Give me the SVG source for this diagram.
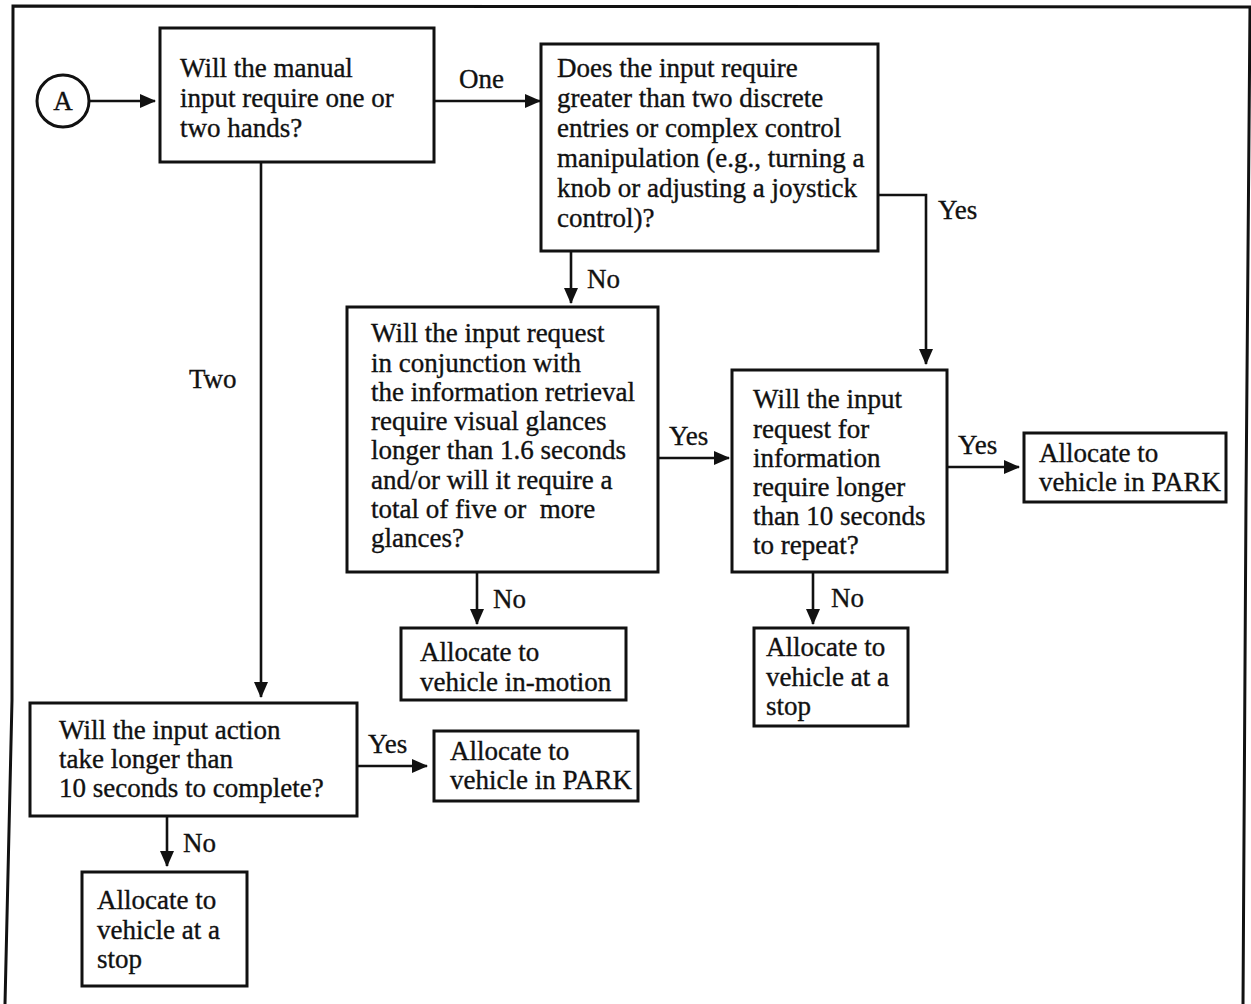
<svg xmlns="http://www.w3.org/2000/svg" width="1251" height="1004" viewBox="0 0 1251 1004">
  <style>
    .box { fill: #fff; stroke: #111; stroke-width: 3; }
    .frame { fill: none; stroke: #111; stroke-width: 3; }
    .conn { fill: none; stroke: #111; stroke-width: 2.6; }
    text { font-family: "Liberation Serif", "Times New Roman", serif; font-size: 27px; fill: #111; stroke: #111; stroke-width: 0.35; }
  </style>
  <defs>
    <marker id="arrow" markerUnits="userSpaceOnUse" markerWidth="16" markerHeight="14" refX="15" refY="7" orient="auto">
      <path d="M0,0 L16,7 L0,14 Z" fill="#111"/>
    </marker>
  </defs>

  <rect width="1251" height="1004" fill="#fff"/>

  <!-- page frame (open at the bottom) -->
  <path class="frame" d="M5,1004 L12,700 L13,6 L1250,7 L1246,500 L1243,1004"/>

  <!-- connectors -->
  <g id="connectors">
    <path class="conn" d="M90,101 H155" marker-end="url(#arrow)"/>
    <path class="conn" d="M434,101 H540" marker-end="url(#arrow)"/>
    <path class="conn" d="M261,162 V697" marker-end="url(#arrow)"/>
    <path class="conn" d="M878,195 H926 V364" marker-end="url(#arrow)"/>
    <path class="conn" d="M571,251 V303" marker-end="url(#arrow)"/>
    <path class="conn" d="M658,458 H729" marker-end="url(#arrow)"/>
    <path class="conn" d="M477,572 V624" marker-end="url(#arrow)"/>
    <path class="conn" d="M948,467 H1019" marker-end="url(#arrow)"/>
    <path class="conn" d="M813,572 V624" marker-end="url(#arrow)"/>
    <path class="conn" d="M357,766 H427" marker-end="url(#arrow)"/>
    <path class="conn" d="M167,816 V866" marker-end="url(#arrow)"/>

    <text x="459" y="88">One</text>
    <text x="938" y="219">Yes</text>
    <text x="587" y="288">No</text>
    <text x="189" y="388">Two</text>
    <text x="669" y="445">Yes</text>
    <text x="493" y="608">No</text>
    <text x="958" y="454">Yes</text>
    <text x="831" y="607">No</text>
    <text x="368" y="753">Yes</text>
    <text x="183" y="852">No</text>
  </g>

  <!-- start connector -->
  <g id="start-a">
    <circle cx="63" cy="101" r="26" fill="#fff" stroke="#111" stroke-width="3"/>
    <text x="63" y="110" text-anchor="middle" font-size="25">A</text>
  </g>

  <g id="hands">
    <rect class="box" x="160" y="28" width="274" height="134"/>
    <text x="180" y="77">Will the manual</text>
    <text x="180" y="107">input require one or</text>
    <text x="180" y="137">two hands?</text>
  </g>

  <g id="entries">
    <rect class="box" x="541" y="44" width="337" height="207"/>
    <text x="557" y="77">Does the input require</text>
    <text x="557" y="107">greater than two discrete</text>
    <text x="557" y="137">entries or complex control</text>
    <text x="557" y="167">manipulation (e.g., turning a</text>
    <text x="557" y="197">knob or adjusting a joystick</text>
    <text x="557" y="227">control)?</text>
  </g>

  <g id="glances">
    <rect class="box" x="347" y="307" width="311" height="265"/>
    <text x="371" y="342">Will the input request</text>
    <text x="371" y="372">in conjunction with</text>
    <text x="371" y="401">the information retrieval</text>
    <text x="371" y="430">require visual glances</text>
    <text x="371" y="459">longer than 1.6 seconds</text>
    <text x="371" y="489">and/or will it require a</text>
    <text x="371" y="518" xml:space="preserve">total of five or  more</text>
    <text x="371" y="547">glances?</text>
  </g>

  <g id="repeat">
    <rect class="box" x="732" y="370" width="215" height="202"/>
    <text x="753" y="408">Will the input</text>
    <text x="753" y="438">request for</text>
    <text x="753" y="467">information</text>
    <text x="753" y="496">require longer</text>
    <text x="753" y="525">than 10 seconds</text>
    <text x="753" y="554">to repeat?</text>
  </g>

  <g id="park-right">
    <rect class="box" x="1024" y="433" width="202" height="69"/>
    <text x="1039" y="462">Allocate to</text>
    <text x="1039" y="491">vehicle in PARK</text>
  </g>

  <g id="in-motion">
    <rect class="box" x="401" y="628" width="225" height="72"/>
    <text x="420" y="661">Allocate to</text>
    <text x="420" y="691">vehicle in-motion</text>
  </g>

  <g id="stop-right">
    <rect class="box" x="754" y="628" width="154" height="98"/>
    <text x="766" y="656">Allocate to</text>
    <text x="766" y="686">vehicle at a</text>
    <text x="766" y="715">stop</text>
  </g>

  <g id="action">
    <rect class="box" x="30" y="703" width="327" height="113"/>
    <text x="59" y="739">Will the input action</text>
    <text x="59" y="768">take longer than</text>
    <text x="59" y="797">10 seconds to complete?</text>
  </g>

  <g id="park-left">
    <rect class="box" x="434" y="731" width="204" height="70"/>
    <text x="450" y="760">Allocate to</text>
    <text x="450" y="789">vehicle in PARK</text>
  </g>

  <g id="stop-left">
    <rect class="box" x="82" y="872" width="165" height="114"/>
    <text x="97" y="909">Allocate to</text>
    <text x="97" y="939">vehicle at a</text>
    <text x="97" y="968">stop</text>
  </g>
</svg>
